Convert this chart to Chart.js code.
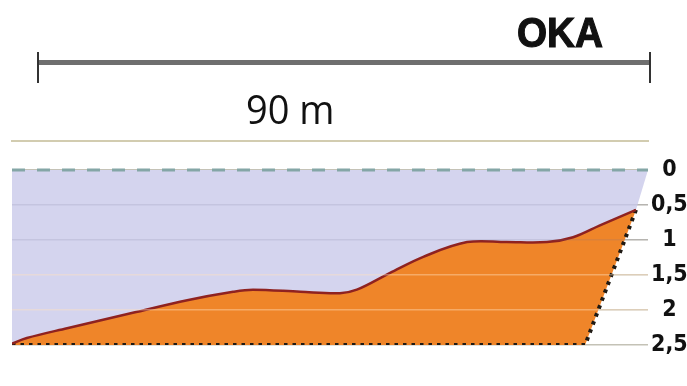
<!DOCTYPE html>
<html>
<head>
<meta charset="utf-8">
<script src="https://cdn.jsdelivr.net/npm/chart.js@4.4.1/dist/chart.umd.min.js"></script>
<style>
  html, body { margin: 0; padding: 0; background: #fff; }
  body { width: 687px; height: 386px; position: relative; overflow: hidden; }
  #wrap { position: absolute; left: 0; top: 0; width: 687px; height: 386px; }
  .river { position: absolute; left: 517px; top: 11px; font: bold 43px/1 "Liberation Sans", Arial, sans-serif;
           color: #111; transform: scaleX(0.9); transform-origin: left top; -webkit-text-stroke: 1.2px #111; }
  .span-bar { position: absolute; left: 38px; top: 60px; width: 612px; height: 5px; background: #6f6f6f; }
  .span-end { position: absolute; top: 52px; width: 2px; height: 31px; background: #333; }
  .span-label { position: absolute; left: 246px; top: 89px; font: 40px/1 "Open Sans", sans-serif; color: #111;
                transform: scaleX(0.95); transform-origin: left top; }
</style>
</head>
<body>
<div id="wrap"><canvas id="profileChart"></canvas></div>
<div class="river">OKA</div>
<div class="span-bar"></div>
<div class="span-end" style="left:37px"></div>
<div class="span-end" style="left:649px"></div>
<div class="span-label">90 m</div>

<script>
// river cross-section, distance from left bank (m) and depth (m)
const distance = [0, 2.1, 7.8, 17.1, 24.8, 31.3, 34.1, 40.8, 46.4, 48.8, 53.5, 58.2, 64.4, 70.0, 75.7, 79.4, 83.2, 88.3];
const depth = [2.48, 2.40, 2.26, 2.04, 1.86, 1.74, 1.71, 1.74, 1.76, 1.71, 1.47, 1.24, 1.03, 1.03, 1.03, 0.96, 0.79, 0.57];

// right bank above the profile end, up to the water line
const bankDistance = [88.3, 90];
const bankDepth = [0.57, 0];

// dotted outline of the bottom layer
const bedDistance = [0, 81.1, 88.3];
const bedDepth = [2.5, 2.5, 0.57];

// water surface
const surfaceDistance = [0, 90];
const surfaceDepth = [0, 0];

const depthTicks = [0, 0.5, 1, 1.5, 2, 2.5];
const depthLabels = ['0', '0,5', '1', '1,5', '2', '2,5'];

const toPoints = (xs, ys) => xs.map((x, i) => ({ x: x, y: ys[i] }));
const labelFont = '"DejaVu Sans Condensed", "Liberation Sans Narrow", "DejaVu Sans", sans-serif';
const lavender = '#d4d4ee';

new Chart(document.getElementById('profileChart'), {
  type: 'line',
  data: {
    datasets: [
      {
        // bottom profile line
        data: toPoints(distance, depth),
        borderColor: '#8f2220',
        borderWidth: 2.5,
        tension: 0.35,
        pointRadius: 0,
        fill: false
      },
      {
        // orange layer with dotted outline
        data: toPoints(bedDistance, bedDepth),
        borderColor: '#1f1a14',
        borderWidth: 4,
        borderDash: [3.5, 5],
        backgroundColor: '#ef8529',
        pointRadius: 0,
        tension: 0,
        fill: 0
      },
      {
        // water surface, lavender water down to the profile
        data: toPoints(surfaceDistance, surfaceDepth),
        borderColor: '#84a6a6',
        borderWidth: 3,
        borderDash: [13, 12],
        backgroundColor: lavender,
        pointRadius: 0,
        fill: 0
      },
      {
        // water over the steep right bank
        data: toPoints(bankDistance, bankDepth),
        borderWidth: 0,
        borderColor: 'rgba(0,0,0,0)',
        backgroundColor: lavender,
        pointRadius: 0,
        fill: { value: 0 }
      }
    ]
  },
  options: {
    responsive: true,
    maintainAspectRatio: false,
    animation: false,
    layout: { padding: { left: 12, top: 141, bottom: 41, right: 0 } },
    plugins: {
      legend: { display: false },
      tooltip: { enabled: false }
    },
    scales: {
      x: {
        type: 'linear',
        position: 'top',
        min: 0,
        max: 90,
        ticks: { display: false },
        grid: { display: false, drawTicks: false },
        border: { display: true, color: '#d2ccb0', width: 2 },
        afterFit: s => { s.height = 0; }
      },
      y: {
        type: 'linear',
        position: 'right',
        reverse: true,
        min: -0.414,
        max: 2.5,
        afterBuildTicks: s => { s.ticks = depthTicks.map(v => ({ value: v })); },
        afterFit: s => { s.width = 39; },
        border: { display: false },
        grid: {
          z: 1,
          drawTicks: false,
          lineWidth: 1.5,
          color: ctx => {
            const v = ctx.tick ? ctx.tick.value : 0;
            if (v === 0 || v === 2.5) return 'rgba(0,0,0,0)';
            return v <= 1 ? 'rgba(110,110,150,0.16)' : 'rgba(255,225,190,0.42)';
          }
        },
        ticks: {
          padding: 3,
          crossAlign: 'center',
          color: '#111',
          font: { family: labelFont, weight: 'bold', size: 23 },
          callback: (v, i) => depthLabels[i]
        }
      },
      y2: {
        type: 'linear',
        position: 'right',
        reverse: true,
        min: -0.414,
        max: 2.5,
        afterBuildTicks: s => { s.ticks = depthTicks.map(v => ({ value: v })); },
        afterFit: s => { s.width = 0; },
        border: { display: false },
        ticks: { display: false },
        grid: { drawTicks: false, color: '#c4c2b6', lineWidth: 1.5 }
      }
    }
  }
});
</script>
</body>
</html>
